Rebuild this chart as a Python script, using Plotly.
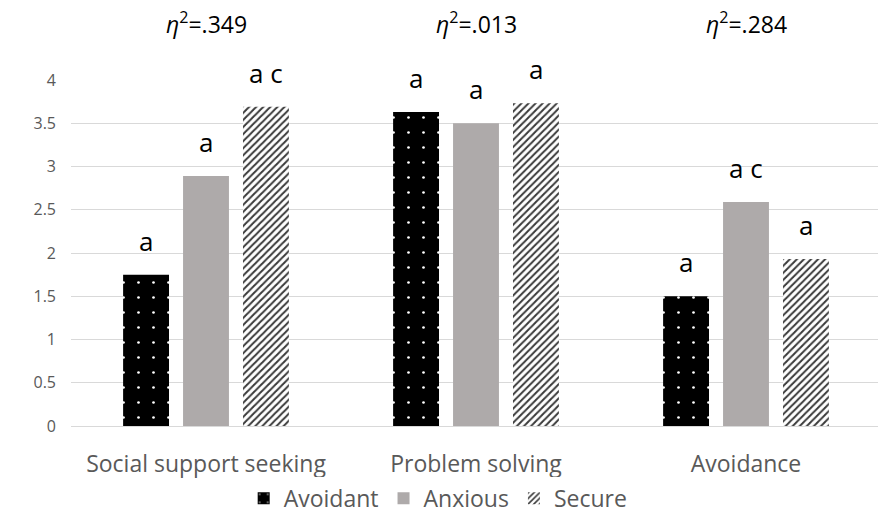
import plotly.graph_objects as go

# Coping strategies by attachment style
categories = ["Social support seeking", "Problem solving", "Avoidance"]
avoidant = [1.75, 3.63, 1.50]
anxious = [2.89, 3.50, 2.59]
secure = [3.69, 3.73, 1.93]

avoidant_marks = ["a", "a", "a"]
anxious_marks = ["a", "a", "a c"]
secure_marks = ["a c", "a", "a"]

eta_squared = [".349", ".013", ".284"]

TEXT_GREY = "#595959"
GRID = "#D9D9D9"
FONT = "Open Sans"

# bar geometry in category units
pitch = 0.222
width = 0.170

series = [
    ("Avoidant", avoidant, avoidant_marks, -1,
     dict(color="black", pattern=dict(shape=".", bgcolor="black", fgcolor="white",
                                      size=15, solidity=0.025, fillmode="replace"))),
    ("Anxious", anxious, anxious_marks, 0, dict(color="#AEAAAA")),
    ("Secure", secure, secure_marks, 1,
     dict(color="white", pattern=dict(shape="/", bgcolor="white", fgcolor="#3a3a3a",
                                      size=5, solidity=0.4, fillmode="replace"))),
]

xs = list(range(len(categories)))

fig = go.Figure()
annotations = []
for name, vals, marks, k, marker in series:
    fig.add_trace(go.Bar(
        name=name, x=xs, y=vals,
        offset=k * pitch - width / 2, width=width,
        marker=dict(line=dict(width=0), **marker),
    ))
    for xi, v, m in zip(xs, vals, marks):
        annotations.append(dict(
            x=xi + k * pitch, y=v, xref="x", yref="y", text=m,
            showarrow=False, yanchor="bottom", yshift=14,
            font=dict(family=FONT, size=26, color="black"),
        ))

for xi, e in zip(xs, eta_squared):
    annotations.append(dict(
        x=xi, y=1, xref="x", yref="paper",
        text=f"<i>η</i><sup>2</sup>=" + e,
        showarrow=False, yanchor="middle", yshift=57,
        font=dict(family=FONT, size=23, color="black"),
    ))

fig.update_layout(
    width=879, height=517,
    margin=dict(l=71, r=1, t=80, b=91, autoexpand=False),
    plot_bgcolor="white", paper_bgcolor="white",
    showlegend=True,
    legend=dict(orientation="h", x=0.455, xanchor="center",
                yref="container", y=0.036, yanchor="middle",
                font=dict(family=FONT, size=23, color=TEXT_GREY),
                itemsizing="constant", tracegroupgap=0),
    annotations=annotations,
    font=dict(family=FONT, color=TEXT_GREY),
)
fig.update_xaxes(
    range=[-0.5, -0.5 + 807 / 270], tickvals=xs, ticktext=categories,
    showgrid=False, showline=True, linecolor=GRID, linewidth=1,
    ticks="", tickfont=dict(family=FONT, size=23, color=TEXT_GREY),
    ticklabelstandoff=17, automargin=False,
)
fig.update_yaxes(
    range=[0, 4], dtick=0.5, showgrid=True, gridcolor=GRID, gridwidth=1,
    zeroline=False, showline=False, ticks="",
    tickfont=dict(family=FONT, size=16, color=TEXT_GREY),
    ticklabelstandoff=14, automargin=False,
)

fig.write_html("out.html")
